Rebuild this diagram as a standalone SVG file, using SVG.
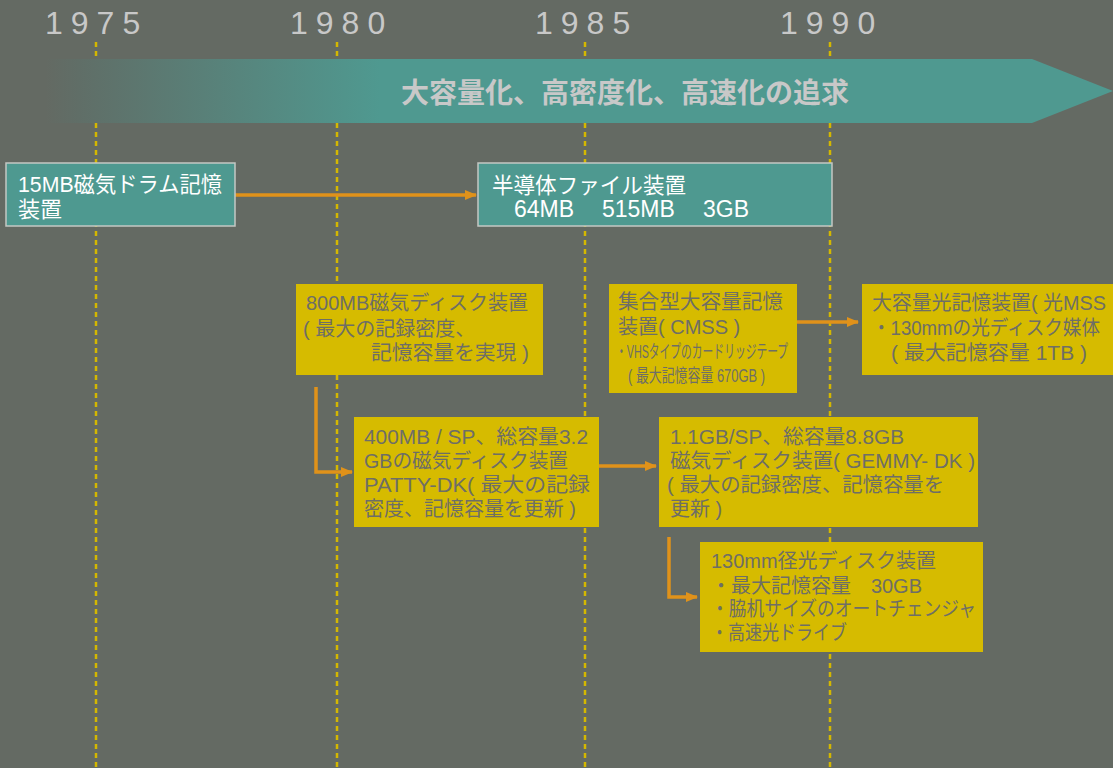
<svg xmlns="http://www.w3.org/2000/svg" width="1113" height="768" viewBox="0 0 1113 768">
  <defs>
    <style>
      .year{font-family:"Liberation Sans","Noto Sans CJK JP",sans-serif;font-size:32px;fill:#c8c8c8;letter-spacing:8px}
      .grid{stroke:#d4b800;stroke-width:2.5;stroke-dasharray:5 4;fill:none}
      .tealbox{fill:#4e9990;stroke:#c4c8c4;stroke-width:1.5}
      .ybox{fill:#d6bb00}
      .tw{font-family:"Liberation Sans","Noto Sans CJK JP",sans-serif;font-size:22px;fill:#ffffff}
      .tn{font-family:"Liberation Sans","Noto Sans CJK JP",sans-serif;font-size:23px;fill:#ffffff}
      .tg{font-family:"Liberation Sans","Noto Sans CJK JP",sans-serif;font-size:20px;fill:#6e6e66}
      .ts{font-family:"Liberation Sans","Noto Sans CJK JP",sans-serif;font-size:18px;fill:#6e6e66}
      .conn{stroke:#e0921a;stroke-width:3.5;fill:none}
      .title{font-family:"Liberation Sans","Noto Sans CJK JP",sans-serif;font-size:28px;font-weight:bold;fill:#c8c8c8}
    </style>
    <linearGradient id="bandGrad" gradientUnits="userSpaceOnUse" x1="45" y1="0" x2="380" y2="0">
      <stop offset="0" stop-color="#646a63"/>
      <stop offset="0.1" stop-color="#606e67"/>
      <stop offset="1" stop-color="#4f9990"/>
    </linearGradient>
    <marker id="arr" markerWidth="12" markerHeight="10" refX="11" refY="5" orient="auto" markerUnits="userSpaceOnUse">
      <path d="M0,0 L12,5 L0,10 Z" fill="#e0921a"/>
    </marker>
  </defs>

  <rect x="0" y="0" width="1113" height="768" fill="#646a63"/>

  <g id="years">
    <text class="year" x="45" y="34">1975</text>
    <text class="year" x="290" y="34">1980</text>
    <text class="year" x="535" y="34">1985</text>
    <text class="year" x="780" y="34">1990</text>
  </g>

  <g id="gridlines">
    <line class="grid" x1="96" y1="42" x2="96" y2="768"/>
    <line class="grid" x1="337" y1="42" x2="337" y2="768"/>
    <line class="grid" x1="585" y1="42" x2="585" y2="768"/>
    <line class="grid" x1="830" y1="42" x2="830" y2="768"/>
  </g>

  <g id="banner">
    <path d="M45,59 L1032,59 L1113,91 L1032,123 L45,123 Z" fill="url(#bandGrad)"/>
    <text class="title" x="625" y="103" text-anchor="middle">大容量化、高密度化、高速化の追求</text>
  </g>

  <g id="connectors">
    <line class="conn" x1="235" y1="195" x2="476" y2="195" marker-end="url(#arr)"/>
    <line class="conn" x1="797" y1="322" x2="858" y2="322" marker-end="url(#arr)"/>
    <polyline class="conn" points="316,387 316,472 352,472" marker-end="url(#arr)"/>
    <line class="conn" x1="599" y1="466" x2="656" y2="466" marker-end="url(#arr)"/>
    <polyline class="conn" points="669,537 669,597 697,597" marker-end="url(#arr)"/>
  </g>

  <g id="drum">
    <rect class="tealbox" x="6" y="163" width="229" height="63"/>
    <text class="tw" x="18" y="192" textLength="204" lengthAdjust="spacingAndGlyphs">15MB磁気ドラム記憶</text>
    <text class="tw" x="18" y="217">装置</text>
  </g>

  <g id="semifile">
    <rect class="tealbox" x="478" y="163" width="354" height="63"/>
    <text class="tw" x="492" y="193" textLength="194" lengthAdjust="spacingAndGlyphs">半導体ファイル装置</text>
    <text class="tn" x="514" y="217">64MB</text>
    <text class="tn" x="602" y="217">515MB</text>
    <text class="tn" x="703" y="217">3GB</text>
  </g>

  <g id="disk800">
    <rect class="ybox" x="296" y="284" width="247" height="91"/>
    <text class="tg" x="306" y="310">800MB磁気ディスク装置</text>
    <text class="tg" x="303" y="336">( 最大の記録密度、</text>
    <text class="tg" x="371" y="360" textLength="158" lengthAdjust="spacingAndGlyphs">記憶容量を実現 )</text>
  </g>

  <g id="cmss">
    <rect class="ybox" x="609" y="284" width="188" height="109"/>
    <text class="tg" x="618" y="309" textLength="165" lengthAdjust="spacingAndGlyphs">集合型大容量記憶</text>
    <text class="tg" x="618" y="334">装置( CMSS )</text>
    <text class="ts" x="616" y="358" textLength="172" lengthAdjust="spacingAndGlyphs">・VHSタイプのカードリッジテープ</text>
    <text class="ts" x="628" y="382" textLength="137" lengthAdjust="spacingAndGlyphs">( 最大記憶容量 670GB )</text>
  </g>

  <g id="optmss">
    <rect class="ybox" x="862" y="284" width="251" height="91"/>
    <text class="tg" x="872" y="310" textLength="234" lengthAdjust="spacingAndGlyphs">大容量光記憶装置( 光MSS</text>
    <text class="tg" x="872" y="335" textLength="228" lengthAdjust="spacingAndGlyphs">・130mmの光ディスク媒体</text>
    <text class="tg" x="891" y="360" textLength="196" lengthAdjust="spacingAndGlyphs">( 最大記憶容量 1TB )</text>
  </g>

  <g id="patty">
    <rect class="ybox" x="354" y="417" width="245" height="110"/>
    <text class="tg" x="364" y="444" textLength="224" lengthAdjust="spacingAndGlyphs">400MB / SP、総容量3.2</text>
    <text class="tg" x="364" y="468" textLength="204" lengthAdjust="spacingAndGlyphs">GBの磁気ディスク装置</text>
    <text class="tg" x="364" y="492" textLength="226" lengthAdjust="spacingAndGlyphs">PATTY-DK( 最大の記録</text>
    <text class="tg" x="364" y="516" textLength="212" lengthAdjust="spacingAndGlyphs">密度、記憶容量を更新 )</text>
  </g>

  <g id="gemmy">
    <rect class="ybox" x="659" y="417" width="319" height="110"/>
    <text class="tg" x="670" y="444" textLength="234" lengthAdjust="spacingAndGlyphs">1.1GB/SP、総容量8.8GB</text>
    <text class="tg" x="670" y="468" textLength="305" lengthAdjust="spacingAndGlyphs">磁気ディスク装置( GEMMY- DK )</text>
    <text class="tg" x="667" y="492" textLength="277" lengthAdjust="spacingAndGlyphs">( 最大の記録密度、記憶容量を</text>
    <text class="tg" x="670" y="516">更新 )</text>
  </g>

  <g id="optdisk130">
    <rect class="ybox" x="700" y="542" width="283" height="110"/>
    <text class="tg" x="711" y="568" textLength="225" lengthAdjust="spacingAndGlyphs">130mm径光ディスク装置</text>
    <text class="tg" x="711" y="593" textLength="211" lengthAdjust="spacingAndGlyphs" xml:space="preserve">・最大記憶容量　30GB</text>
    <text class="tg" x="711" y="616" textLength="265" lengthAdjust="spacingAndGlyphs">・脇机サイズのオートチェンジャ</text>
    <text class="tg" x="711" y="640" textLength="136" lengthAdjust="spacingAndGlyphs">・高速光ドライブ</text>
  </g>
</svg>
